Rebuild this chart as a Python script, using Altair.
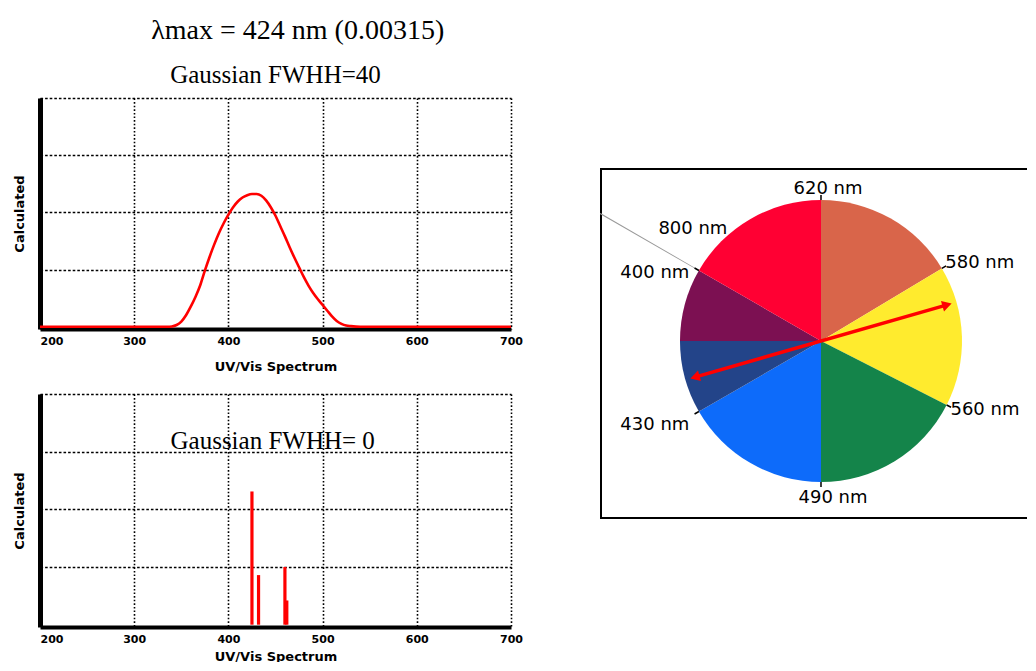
import altair as alt
import pandas as pd
import numpy as np

# ---------------- data ----------------
# Gaussian FWHH=40 spectrum
top_wl = [200, 300, 335, 340, 345, 350, 355, 360, 365, 370, 375, 380, 385, 390, 395,
          400, 405, 410, 415, 420, 425, 430, 435, 440, 445, 450, 455, 460, 465, 470,
          475, 480, 485, 490, 495, 500, 505, 510, 515, 520, 525, 530, 540, 600, 700]
top_val = [0, 0, 0, 0.005, 0.03, 0.09, 0.2, 0.35, 0.52, 0.72, 0.98, 1.22, 1.44, 1.64, 1.81,
           1.96, 2.09, 2.19, 2.26, 2.30, 2.32, 2.32, 2.29, 2.21, 2.09, 1.94, 1.76, 1.58, 1.39, 1.21,
           1.04, 0.87, 0.72, 0.59, 0.48, 0.38, 0.28, 0.18, 0.10, 0.05, 0.02, 0.01, 0, 0, 0]

# Gaussian FWHH=0 stick spectrum
stick_wl = [425, 432, 460, 462]
stick_val = [2.31, 0.86, 1.0, 0.42]
stick_base = [0, 0, 0, 0]

x_ticks = [200, 300, 400, 500, 600, 700]
y_grid = [1, 2, 3, 4]

ann_text = ["Gaussian FWHH= 0"]
ann_wl = [447]
ann_val = [3.04]

# colour wheel
slice_names = ["620-580", "580-560", "560-490", "490-430", "430-400a", "430-400b", "800-620"]
slice_span = [59, 58, 63, 60, 30, 30, 60]
slice_colors = ["#D9654A", "#FFEB2E", "#14844A", "#0D6BFA", "#234489", "#7C1052", "#FF0033"]

label_text = ["620 nm", "580 nm", "560 nm", "490 nm", "430 nm", "400 nm", "800 nm"]
label_angle = [0, 59, 117, 180, 240, 300, 322]
label_side = ["top", "right", "right", "bottom", "left", "left", "left"]

tick_angle = [0, 59, 117, 180, 240, 300]
pointer_angle = [300]
arrow_angle = 74

# ---------------- styles ----------------
PLOT_W, TOP_H, BOT_H = 471, 231, 233
PIE_W, PIE_H = 450, 349
CX, CY, R = 220, 172, 141
RED = "#FF0000"
SERIF = "Liberation Serif"
SANS = "DejaVu Sans"


def x_enc(title_pad=14):
    return alt.X(
        "wl:Q",
        scale=alt.Scale(domain=[200, 700], nice=False, zero=False),
        axis=alt.Axis(
            values=x_ticks, grid=True, gridColor="black", gridDash=[1.6, 2], gridWidth=1.6,
            domainColor="black", domainWidth=4, ticks=False,
            labelFont=SANS, labelFontWeight="bold", labelFontSize=11, labelColor="black",
            labelPadding=6, labelFlush=False, labelOverlap=False,
            labelAlign={"condition": {"test": "datum.value == 200", "value": "left"}, "value": "center"},
            title="UV/Vis Spectrum", titleFont=SANS, titleFontSize=13, titleFontWeight="bold",
            titleColor="black", titlePadding=title_pad,
        ),
    )


def y_enc():
    return alt.Y(
        "v:Q",
        scale=alt.Scale(domain=[-0.04, 4], nice=False, zero=False),
        axis=alt.Axis(
            values=y_grid, labels=False, ticks=False, grid=True, gridColor="black",
            gridDash=[2.6, 2], gridWidth=1.6, domainColor="black", domainWidth=5,
            title="Calculated", titleFont=SANS, titleFontSize=13, titleFontWeight="bold",
            titleColor="black", titlePadding=14,
        ),
    )


df_top = pd.DataFrame({"wl": top_wl, "v": top_val})
top = alt.Chart(df_top).mark_line(color=RED, strokeWidth=2.6, interpolate="monotone").encode(
    x=x_enc(), y=y_enc()
).properties(
    width=PLOT_W, height=TOP_H,
    title=alt.TitleParams("Gaussian FWHH=40", font=SERIF, fontSize=25, fontWeight="normal",
                          color="black", anchor="middle", frame="group", offset=10),
)

df_stick = pd.DataFrame({"wl": stick_wl, "v": stick_val, "base": stick_base})
df_ann = pd.DataFrame({"wl": ann_wl, "v": ann_val, "t": ann_text})
sticks = alt.Chart(df_stick).mark_rule(color=RED, strokeWidth=3.2).encode(
    x=x_enc(6), y=y_enc(), y2="base:Q"
)
ann = alt.Chart(df_ann).mark_text(font=SERIF, fontSize=25, align="center", baseline="alphabetic",
                                  color="black").encode(x=x_enc(6), y=y_enc(), text="t:N")
bottom = alt.layer(sticks, ann).properties(width=PLOT_W, height=BOT_H)

left = alt.vconcat(top, bottom, spacing=21).properties(
    title=alt.TitleParams("λmax = 424 nm (0.00315)", font=SERIF, fontSize=28, fontWeight="normal",
                          color="black", anchor="middle", dx=30, offset=18)
)

# ---------------- colour wheel ----------------
theta_scale = alt.Scale(domain=[0, 360])
df_slices = pd.DataFrame({"name": slice_names, "span": slice_span, "idx": list(range(len(slice_names)))})
arcs = alt.Chart(df_slices).mark_arc(outerRadius=R).encode(
    theta=alt.Theta("span:Q", stack=True, scale=theta_scale),
    color=alt.Color("name:N", scale=alt.Scale(domain=slice_names, range=slice_colors), legend=None),
    order=alt.Order("idx:Q"),
    x=alt.value(CX), y=alt.value(CY),
)

df_ticks = pd.DataFrame({"a": tick_angle})
ticks = alt.Chart(df_ticks).transform_calculate(
    a1="datum.a - 0.3", a2="datum.a + 0.3"
).mark_arc(innerRadius=R, outerRadius=R + 5, color="black").encode(
    theta=alt.Theta("a1:Q", stack=False, scale=theta_scale), theta2="a2:Q",
    x=alt.value(CX), y=alt.value(CY),
)

df_pointer = pd.DataFrame({"a": pointer_angle})
pointer = alt.Chart(df_pointer).transform_calculate(
    a1="datum.a - 0.15", a2="datum.a + 0.15"
).mark_arc(innerRadius=R, outerRadius=255, color="#9a9a9a").encode(
    theta=alt.Theta("a1:Q", stack=False, scale=theta_scale), theta2="a2:Q",
    x=alt.value(CX), y=alt.value(CY),
)

df_labels = pd.DataFrame({"t": label_text, "ang": label_angle, "side": label_side})
label_layers = []
for side, align, dx, dy in [("top", "center", 7, 0), ("bottom", "center", 12, 5),
                            ("right", "left", -6, 0), ("left", "right", 0, 8)]:
    label_layers.append(
        alt.Chart(df_labels).transform_filter(f"datum.side == '{side}'").mark_text(
            radius=152, align=align, baseline="middle", font=SANS, fontSize=18, color="black",
            dx=dx, dy=dy
        ).encode(
            theta=alt.Theta("ang:Q", stack=False, scale=theta_scale), text="t:N",
            x=alt.value(CX), y=alt.value(CY),
        )
    )

rad = np.deg2rad(arrow_angle)
reach = 0.93
df_arrow = pd.DataFrame({
    "px": [-reach * np.sin(rad), reach * np.sin(rad)],
    "py": [-reach * np.cos(rad), reach * np.cos(rad)],
    "rot": [arrow_angle + 180, arrow_angle],
})
ax = alt.X("px:Q", scale=alt.Scale(domain=[-1, 1], range=[CX - R, CX + R]), axis=None)
ay = alt.Y("py:Q", scale=alt.Scale(domain=[-1, 1], range=[CY + R, CY - R]), axis=None)
arrow_line = alt.Chart(df_arrow).mark_line(color=RED, strokeWidth=3.5).encode(x=ax, y=ay)
arrow_heads = alt.Chart(df_arrow).mark_point(shape="triangle-up", filled=True, size=120,
                                             color=RED, opacity=1).encode(
    x=ax, y=ay, angle=alt.Angle("rot:Q", scale=None)
)

pie = alt.layer(arcs, pointer, ticks, *label_layers, arrow_line, arrow_heads).properties(
    width=PIE_W, height=PIE_H, view=alt.ViewBackground(stroke="black", strokeWidth=2)
)

spacer = alt.Chart(pd.DataFrame({"s": [0]})).mark_point(opacity=0, size=4).encode(
    x=alt.value(5), y=alt.value(20)
).properties(width=10, height=70)

right = alt.vconcat(spacer, pie, spacing=0)

# negative right padding crops the panel frame at the page edge, as in the picture
chart = alt.hconcat(left, right, spacing=75).properties(
    padding={"left": 5, "top": 9, "right": -25, "bottom": -1}
).configure_view(stroke="transparent", strokeWidth=0)

chart.save("out.html", embed_options={"renderer": "svg", "actions": False})
